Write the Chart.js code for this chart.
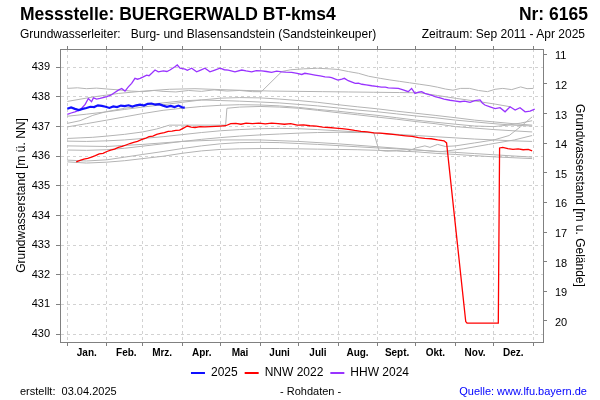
<!DOCTYPE html>
<html><head><meta charset="utf-8">
<script src="https://cdn.jsdelivr.net/npm/chart.js@4.4.1/dist/chart.umd.min.js"></script>
<style>
html,body{margin:0;padding:0;background:#fff;}
#wrap{position:relative;width:600px;height:400px;font-family:"Liberation Sans",Arial,sans-serif;color:#000;overflow:hidden;}
canvas{position:absolute;left:0;top:0;}
.t{position:absolute;white-space:nowrap;line-height:1;}
</style></head><body>
<div id="wrap">
<canvas id="c" width="600" height="400"></canvas>
<div class="t" style="left:20px;top:6px;font-size:17.5px;font-weight:bold">Messstelle: BUERGERWALD BT-kms4</div>
<div class="t" style="right:12px;top:6px;font-size:17.5px;font-weight:bold">Nr: 6165</div>
<div class="t" style="left:20px;top:28px;font-size:12px">Grundwasserleiter:&nbsp;&nbsp; Burg- und Blasensandstein (Sandsteinkeuper)</div>
<div class="t" style="right:15px;top:28px;font-size:12px">Zeitraum: Sep 2011 - Apr 2025</div>
<div class="t" style="left:20px;top:386px;font-size:11px">erstellt:&nbsp; 03.04.2025</div>
<div class="t" style="left:280px;top:386px;font-size:11px">- Rohdaten -</div>
<div class="t" style="right:13px;top:386px;font-size:11px;color:#0000ff">Quelle: www.lfu.bayern.de</div>
</div>
<script>
// ---- data (day of year, water level m ü. NN) ----
const monthTicks = [0,31,59,90,120,151,181,212,243,273,304,334,365];
const monthLabels = ['Jan.','Feb.','Mrz.','Apr.','Mai','Juni','Juli','Aug.','Sept.','Okt.','Nov.','Dez.'];
const levelTicks = [430,431,432,433,434,435,436,437,438,439];
const depthTicks = [11,12,13,14,15,16,17,18,19,20];
const groundLevel = 450.44;
const levelMin = 429.73, levelMax = 439.62;
const dayMin = -5.7, dayMax = 372.5;

const series2025 = [[0,437.60],[3,437.65],[6,437.60],[9,437.56],[12,437.60],[15,437.63],[18,437.67],[21,437.66],[24,437.72],[27,437.70],[30,437.67],[33,437.63],[36,437.68],[39,437.66],[42,437.71],[45,437.69],[48,437.72],[51,437.68],[54,437.72],[57,437.74],[60,437.71],[63,437.77],[66,437.78],[69,437.74],[72,437.76],[75,437.71],[78,437.67],[81,437.70],[84,437.66],[87,437.71],[90,437.65],[92,437.64]];

const seriesNNW2022 = [[7,435.81],[10,435.86],[13,435.9],[16,435.93],[19,435.97],[22,436.02],[25,436.08],[28,436.1],[31,436.16],[34,436.21],[37,436.24],[40,436.3],[43,436.33],[46,436.38],[49,436.43],[52,436.47],[55,436.5],[58,436.56],[61,436.6],[64,436.66],[67,436.68],[70,436.74],[73,436.77],[76,436.8],[79,436.84],[82,436.85],[85,436.87],[88,436.88],[91,436.95],[94,437.02],[97,436.98],[100,436.97],[104,437.0],[108,436.99],[112,437.0],[116,437.01],[120,437.02],[124,437.03],[128,437.1],[132,437.11],[136,437.08],[140,437.12],[145,437.1],[150,437.12],[155,437.09],[160,437.12],[165,437.1],[170,437.08],[175,437.1],[180,437.05],[185,437.06],[190,437.03],[195,437.02],[200,436.98],[205,436.97],[210,436.95],[215,436.93],[220,436.91],[225,436.87],[230,436.84],[235,436.82],[240,436.79],[245,436.78],[250,436.76],[255,436.74],[260,436.71],[265,436.69],[270,436.67],[275,436.63],[280,436.6],[285,436.59],[290,436.55],[295,436.52],[297,436.45],[312,430.42],[313,430.37],[337.5,430.37],[338.5,436.28],[341,436.3],[345,436.26],[349,436.23],[353,436.25],[357,436.22],[361,436.23],[364,436.18]];

const seriesHHW2024 = [[0,437.41],[3,437.46],[6,437.5],[10,437.56],[14,437.75],[16.5,437.95],[19,437.84],[20.5,437.97],[23,437.93],[25.6,437.95],[28,437.98],[31,438.01],[34,438.06],[36,438.12],[40,438.23],[42.6,438.29],[45.2,438.2],[47.8,438.34],[50.4,438.46],[53,438.63],[55,438.6],[57,438.63],[59.5,438.68],[62.2,438.74],[64,438.72],[66.1,438.8],[68.7,438.91],[71.3,438.85],[75.2,438.88],[78,438.86],[80.4,438.91],[84.3,439.02],[86.1,439.08],[88.3,438.97],[92.2,438.94],[94,438.9],[97.4,438.97],[101.3,438.85],[104,438.9],[107.8,438.97],[111.7,438.85],[115,438.9],[119.6,438.97],[123,438.92],[126,438.91],[131.3,438.85],[136.6,438.91],[140,438.88],[144.4,438.85],[148,438.89],[152.2,438.88],[156,438.86],[160,438.83],[164,438.87],[167.9,438.85],[171,438.84],[175.7,438.83],[180,438.8],[183.6,438.76],[186,438.8],[190,438.77],[194,438.74],[198,438.71],[201.8,438.68],[205,438.67],[207,438.65],[210,438.6],[212,438.57],[215,438.6],[217,438.63],[220,438.55],[223,438.5],[225.5,438.46],[228,438.47],[230.7,438.43],[234,438.41],[238.4,438.38],[242,438.36],[246,438.33],[249,438.33],[251.4,438.31],[255,438.3],[259.2,438.29],[263,438.24],[267,438.18],[269.6,438.29],[272.3,438.12],[275,438.16],[277.5,438.18],[280,438.12],[282.7,438.09],[286,438.05],[288,438.01],[291.9,437.97],[295,437.93],[299.7,437.89],[303,437.87],[307.5,437.84],[311,437.86],[315.4,437.82],[319,437.88],[323.2,437.9],[325,437.8],[327,437.73],[331,437.67],[335,437.61],[338.9,437.64],[342.8,437.5],[346.7,437.67],[350.7,437.56],[354.5,437.64],[358.5,437.5],[362.4,437.52],[366,437.59]];

// other years (grey)
const grey1 = [[0,438.29],[8,438.31],[15,438.28],[23,438.30],[31,438.27],[40,438.24],[50,438.20],[59,438.18],[68,438.22],[75,438.19],[85,438.17],[95,438.22],[105,438.19],[115,438.24],[125,438.20],[135,438.22],[145,438.18],[152,438.18],[168,438.86],[175,438.92],[185,438.95],[196,438.97],[205,438.95],[212,438.93],[220,438.86],[228,438.80],[236,438.70],[245,438.63],[252,438.58],[260,438.53],[268,438.48],[276,438.43],[284,438.38],[290,438.33],[296,438.27],[302,438.23],[308,438.29],[315,438.29],[322,438.22],[329,438.18],[335,438.26],[341,438.29],[348,438.25],[355,438.34],[360,438.28],[365,438.29]];
const grey2 = [[0,437.85],[20,438.0],[40,438.12],[60,438.2],[80,438.26],[100,438.28],[120,438.25],[140,438.22],[160,438.2],[180,438.19],[200,438.18],[220,438.17],[240,438.16],[260,438.15],[276,438.14],[290,438.05],[305,437.95],[320,437.86],[335,437.76],[347,437.67]];
const grey3 = [[0,437.11],[10,437.2],[20,437.38],[30,437.5],[45,437.62],[60,437.73],[75,437.8],[90,437.87],[105,437.9],[120,437.88],[135,437.86],[151,437.83],[166,437.8],[181,437.75],[196,437.7],[212,437.63],[227,437.56],[243,437.5],[258,437.43],[273,437.36],[288,437.3],[304,437.22],[319,437.16],[334,437.1],[349,437.05],[364,437.02]];
const grey4 = [[0,436.99],[15,437.1],[31,437.22],[45,437.33],[59,437.44],[75,437.55],[90,437.62],[105,437.68],[120,437.72],[135,437.74],[151,437.73],[166,437.7],[181,437.65],[196,437.58],[212,437.52],[227,437.45],[243,437.38],[258,437.3],[273,437.22],[288,437.15],[304,437.08],[319,437.02],[334,437.0],[345,437.05],[355,437.12],[364,437.2]];
const grey5 = [[0,436.6],[10,436.62],[20,436.64],[31,436.68],[45,436.74],[59,436.82],[70,436.92],[80,437.05],[124,437.05],[125,437.62],[135,437.66],[151,437.68],[166,437.66],[181,437.62],[196,437.55],[212,437.47],[227,437.4],[243,437.32],[258,437.25],[273,437.17],[288,437.1],[304,437.0],[319,436.95],[334,436.9],[349,436.86],[364,436.82]];
const grey6 = [[0,436.51],[15,436.5],[31,436.52],[45,436.55],[59,436.6],[75,436.66],[90,436.73],[105,436.8],[120,436.86],[135,436.9],[151,436.93],[166,436.94],[181,436.93],[196,436.9],[212,436.86],[227,436.82],[243,436.78],[258,436.74],[273,436.7],[288,436.66],[304,436.62],[319,436.58],[334,436.55],[349,436.52],[364,436.5]];
const grey7 = [[0,436.21],[15,436.2],[31,436.22],[45,436.27],[59,436.34],[75,436.42],[90,436.5],[105,436.57],[120,436.63],[135,436.68],[151,436.72],[166,436.75],[181,436.78],[196,436.8],[212,436.81],[227,436.8],[240,436.8],[244,436.2],[250,436.17],[258,436.19],[266,436.16],[273,436.28],[280,436.35],[284,436.3],[290,436.4],[296,436.33],[304,436.35],[319,436.45],[334,436.55],[346,436.7],[355,437.0],[364,437.33]];
const grey8 = [[0,435.87],[15,435.84],[31,435.88],[45,435.97],[59,436.06],[75,436.16],[90,436.26],[105,436.35],[120,436.42],[135,436.46],[151,436.47],[166,436.46],[181,436.43],[196,436.4],[212,436.36],[227,436.32],[243,436.28],[258,436.25],[273,436.21],[288,436.17],[304,436.13],[319,436.09],[334,436.05],[349,436.01],[364,435.97]];
const grey9 = [[0,435.81],[15,435.77],[31,435.8],[45,435.85],[59,435.92],[75,436.0],[90,436.1],[105,436.18],[120,436.23],[135,436.25],[151,436.26],[166,436.26],[181,436.25],[196,436.24],[212,436.23],[227,436.22],[243,436.2],[258,436.18],[273,436.15],[288,436.1],[304,436.06],[319,436.02],[334,435.98],[349,435.95],[364,435.92]];
const grey10 = [[0,437.35],[15,437.42],[31,437.5],[45,437.58],[59,437.66],[75,437.74],[90,437.82],[105,437.9],[120,437.96],[135,437.98],[151,437.97],[166,437.93],[181,437.88],[196,437.82],[212,437.74],[227,437.67],[243,437.6],[258,437.52],[273,437.45],[288,437.38],[304,437.3],[319,437.22],[334,437.16],[349,437.1],[364,437.05]];
const grey11 = [[0,436.35],[31,436.33],[59,436.4],[90,436.5],[120,436.55],[151,436.55],[181,436.5],[212,436.42],[243,436.32],[273,436.22],[292,436.15],[310,436.25],[330,436.4],[350,436.55],[364,436.7]];
const greySeries = [grey1,grey2,grey3,grey4,grey5,grey6,grey7,grey8,grey9,grey10,grey11];

// ---- chart ----
const FONT = '"Liberation Sans", Arial, sans-serif';
Chart.defaults.font.family = FONT;
Chart.defaults.color = '#000';
const pts = arr => arr.map(p => ({x: p[0], y: p[1]}));
const GRID = '#d2d2d2', AXIS = '#808080';

const datasets = [
  {label:'2025', data:pts(series2025), borderColor:'#1010ff', backgroundColor:'#1010ff', borderWidth:2.2},
  {label:'NNW 2022', data:pts(seriesNNW2022), borderColor:'#ff0000', backgroundColor:'#ff0000', borderWidth:1.3},
  {label:'HHW 2024', data:pts(seriesHHW2024), borderColor:'#9933ff', backgroundColor:'#9933ff', borderWidth:1.3},
  ...greySeries.map((g,i) => ({label:'grey'+i, data:pts(g), borderColor:'#b4b4b4', backgroundColor:'#b4b4b4', borderWidth:1}))
];
datasets.forEach(d => { d.pointRadius = 0; d.tension = 0; d.fill = false; });

const monthTickBuilder = s => { s.ticks = monthTicks.map(v => ({value: v})); };

new Chart(document.getElementById('c'), {
  type: 'line',
  data: {datasets},
  options: {
    responsive: false, animation: false, devicePixelRatio: 1,
    layout: {padding: {top: 46, bottom: 11, left: 0, right: 0}},
    plugins: {
      tooltip: {enabled: false},
      legend: {
        position: 'bottom',
        labels: {
          boxWidth: 14, boxHeight: 2, padding: 7, color: '#000',
          font: {size: 12, family: FONT},
          generateLabels: chart => chart.data.datasets.slice(0,3).map((d,i) => ({
            text: d.label, fillStyle: d.borderColor, strokeStyle: d.borderColor,
            lineWidth: 0, hidden: false, datasetIndex: i, fontColor: '#000'
          }))
        }
      }
    },
    scales: {
      x: {
        type: 'linear', position: 'bottom', min: dayMin, max: dayMax,
        afterBuildTicks: monthTickBuilder,
        afterFit: s => { s.height = 18; },
        ticks: {autoSkip: false, maxRotation: 0, labelOffset: 19.5, padding: 1, color: '#000',
                font: {size: 10, weight: 'bold', family: FONT},
                callback: (v, i) => monthLabels[i] ?? ''},
        grid: {color: GRID, tickColor: AXIS, tickLength: 4},
        border: {color: AXIS, dash: [3,3]}
      },
      xTop: {
        type: 'linear', position: 'top', min: dayMin, max: dayMax,
        afterBuildTicks: monthTickBuilder,
        afterFit: s => { s.height = 3; },
        ticks: {display: false},
        grid: {drawOnChartArea: false, tickColor: AXIS, tickLength: 3},
        border: {color: AXIS}
      },
      y: {
        type: 'linear', position: 'left', min: levelMin, max: levelMax,
        afterBuildTicks: s => { s.ticks = levelTicks.map(v => ({value: v})); },
        afterFit: s => { s.width = 60; },
        ticks: {padding: 6, color: '#000', font: {size: 11, family: FONT}},
        grid: {color: GRID, tickColor: AXIS, tickLength: 4},
        border: {color: AXIS, dash: [3,3]},
        title: {display: true, text: 'Grundwasserstand [m ü. NN]', color: '#000',
                font: {size: 12, family: FONT}, padding: {top: 14, bottom: 0}}
      },
      y2: {
        type: 'linear', position: 'right', reverse: true,
        min: groundLevel - levelMax, max: groundLevel - levelMin,
        afterBuildTicks: s => { s.ticks = depthTicks.map(v => ({value: v})); },
        afterFit: s => { s.width = 57; },
        ticks: {padding: 8, labelOffset: 2, color: '#000', font: {size: 11, family: FONT}},
        grid: {drawOnChartArea: false, tickColor: AXIS, tickLength: 4},
        border: {color: AXIS},
        title: {display: true, text: 'Grundwasserstand [m u. Gelände]', color: '#000',
                font: {size: 12, family: FONT}, padding: {top: 13.5, bottom: 0}}
      }
    }
  }
});
</script>
</body></html>
